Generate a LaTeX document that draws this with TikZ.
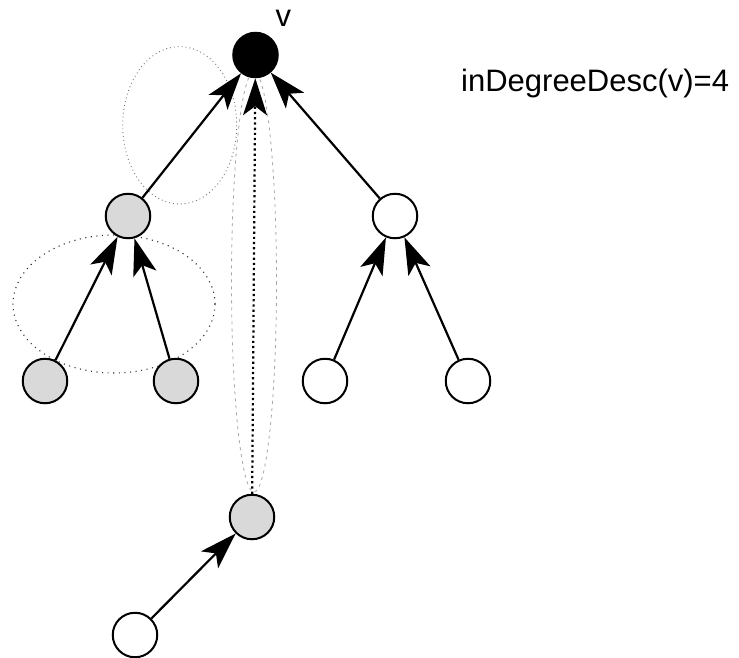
\documentclass[tikz,border=0pt]{standalone}
\usepackage{fontspec}
\setmainfont{Liberation Sans}
\usetikzlibrary{arrows.meta}
\begin{document}
\begin{tikzpicture}[x=1pt,y=-1pt,
  vtx/.style={circle,draw=black,line width=2pt,minimum size=44.5pt,inner sep=0pt},
  grayv/.style={vtx,fill=black!15},
  whitev/.style={vtx,fill=white},
  blackv/.style={vtx,fill=black},
  edge/.style={line width=2.2pt,-{Stealth[length=37pt,width=24pt,inset=9pt]}},
  dotedge/.style={edge,dash pattern=on 2.2pt off 3pt},
  ringa/.style={draw=black!55,line width=0.9pt,dash pattern=on 0.9pt off 3pt},
  ringb/.style={draw=black!80,line width=1.1pt,dash pattern=on 1.1pt off 4.5pt},
  ringc/.style={draw=black!35,line width=0.8pt,dash pattern=on 3pt off 4pt},
  lbl/.style={font=\fontsize{31}{36}\selectfont,inner sep=0pt}]
\useasboundingbox (0,0) rectangle (739,657);
% long gray ellipse around dotted edge
\draw[ringc] (254,282) ellipse [x radius=22.5, y radius=210];
% dotted ellipses
\draw[ringa] (179.7,125.3) ellipse [x radius=57, y radius=78.7];
\draw[ringb] (114,304) ellipse [x radius=101, y radius=69];
% nodes
\node[blackv] (v) at (255.5,55) {};
\node[grayv]  (a) at (128,216) {};
\node[whitev] (b) at (395,216) {};
\node[grayv]  (c) at (45,381) {};
\node[grayv]  (d) at (176,381) {};
\node[whitev] (e) at (325,381) {};
\node[whitev] (f) at (468,381) {};
\node[grayv]  (g) at (252,517) {};
\node[whitev] (h) at (135,635) {};
% labels
\node[lbl,anchor=base] (vl) at (283.3,26) {v};
\node[lbl,anchor=base west] (deg) at (461,91.7) {inDegreeDesc(v)=4};
% edges
\draw[edge] (a) -- (v);
\draw[edge] (b) -- (v);
\draw[edge] (c) -- (a);
\draw[edge] (d) -- (a);
\draw[edge] (e) -- (b);
\draw[edge] (f) -- (b);
\draw[dotedge] (g) -- (v);
\draw[edge] (h) -- (g);
\end{tikzpicture}
\end{document}
